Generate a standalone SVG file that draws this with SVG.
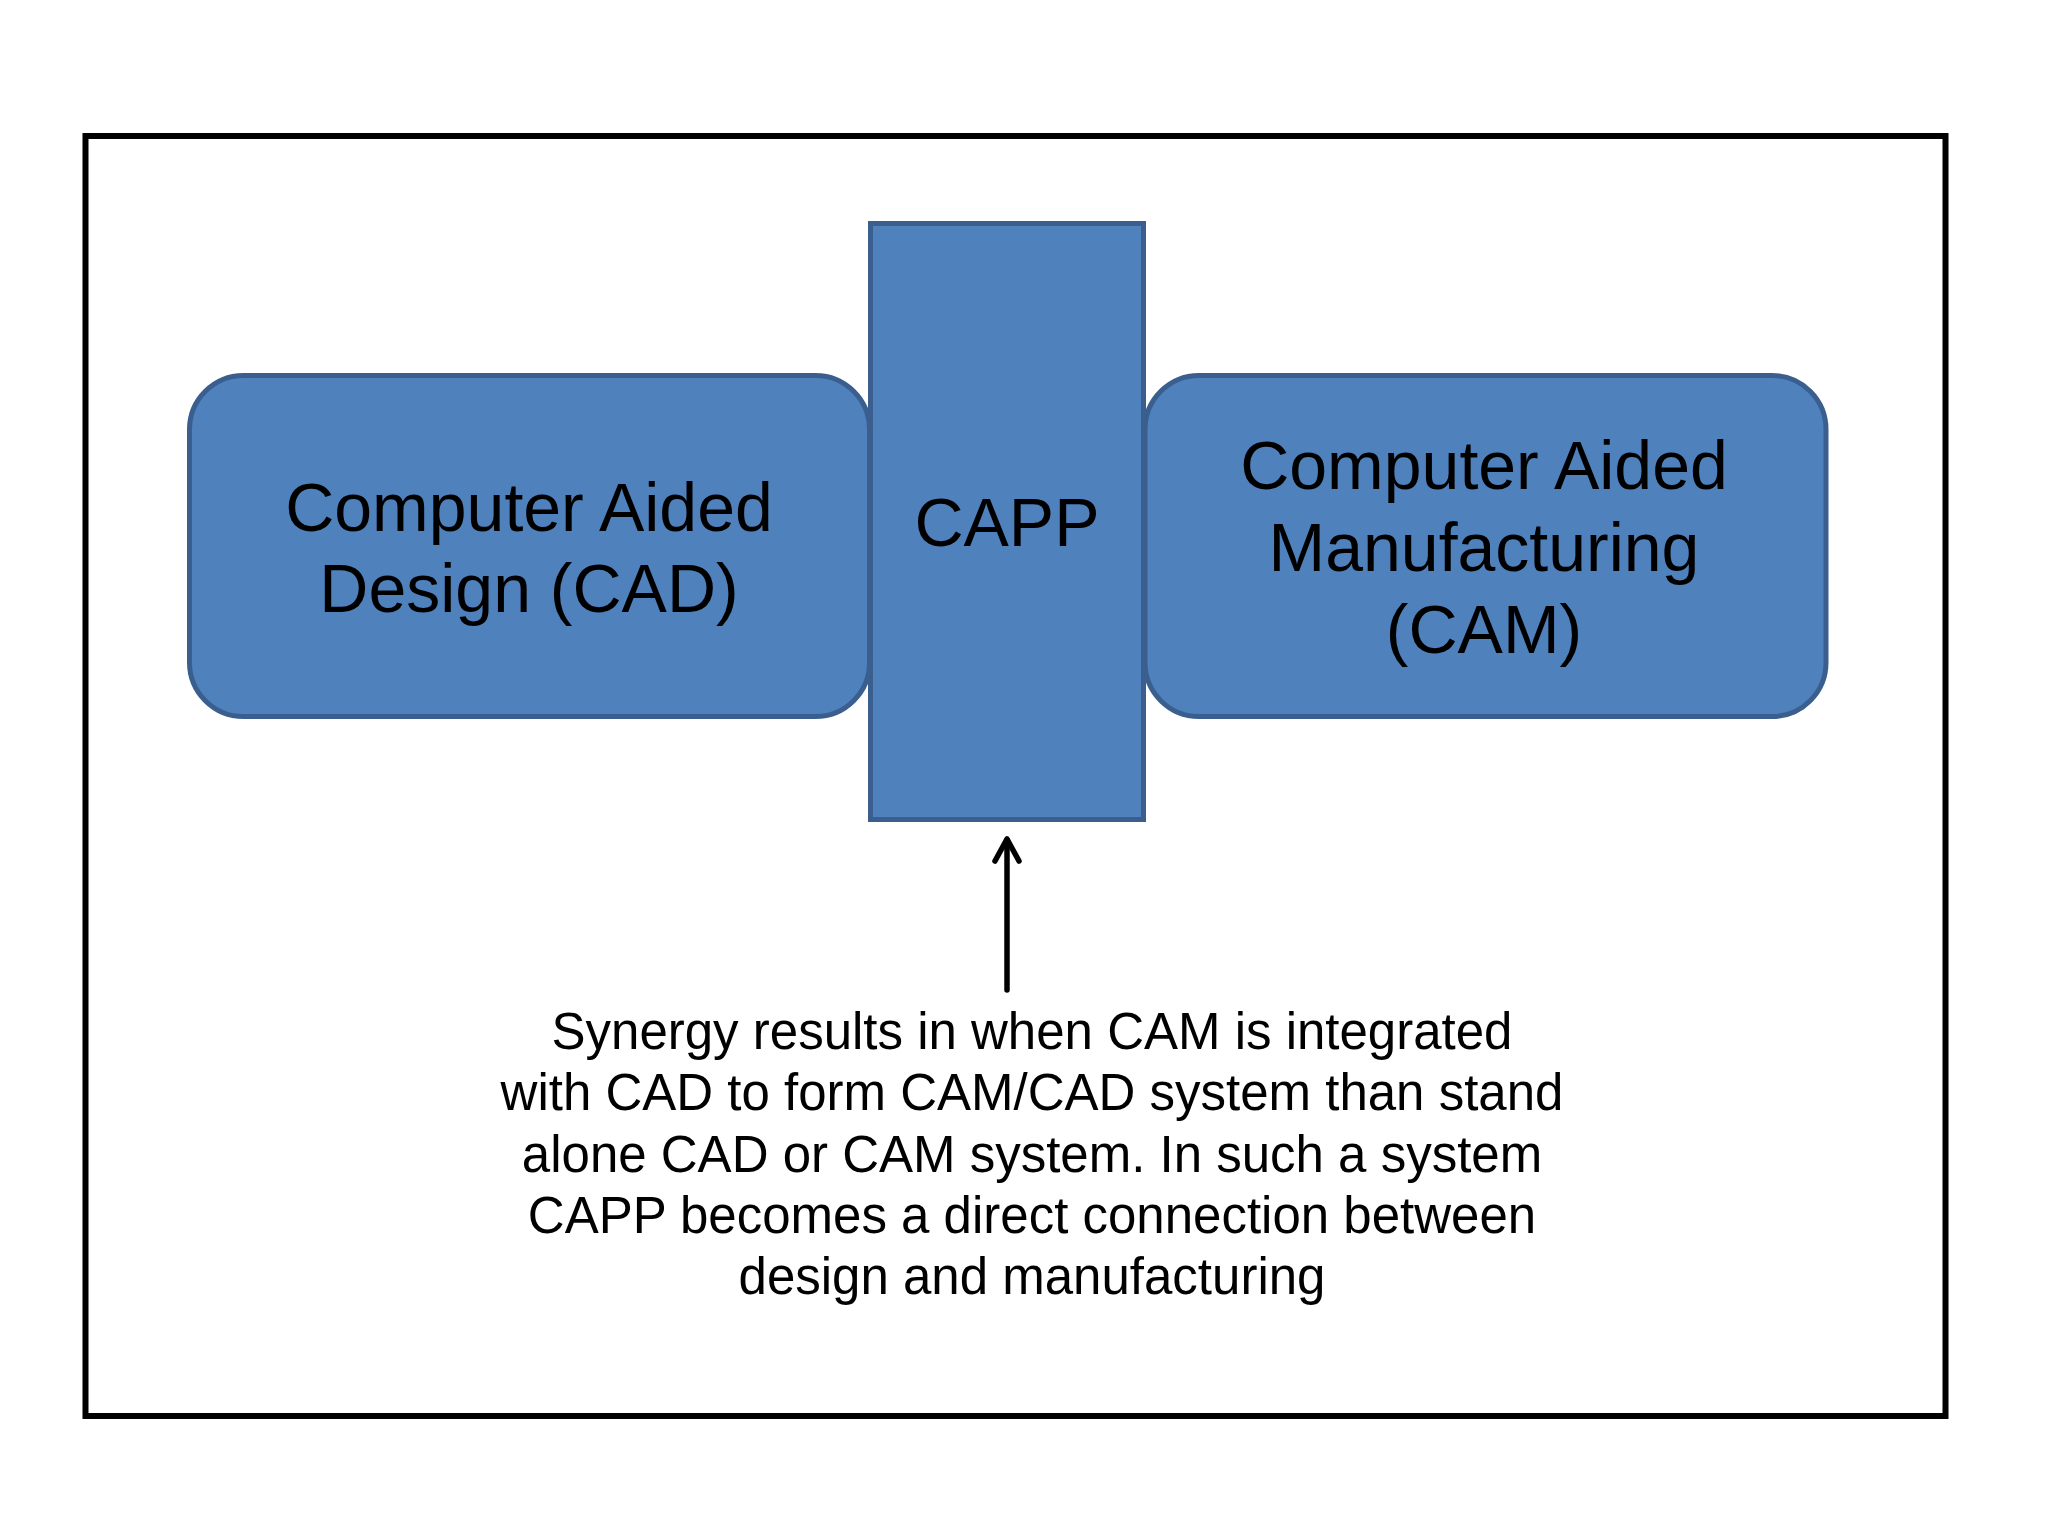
<svg xmlns="http://www.w3.org/2000/svg" width="2048" height="1536" viewBox="0 0 2048 1536">
<style>
.box{fill:#4F81BD;stroke:#3A5F8E;stroke-width:5}
.lbl{font-family:"Liberation Sans",Arial,sans-serif;font-size:68px;fill:#000;text-anchor:middle}
.note{font-family:"Liberation Sans",Arial,sans-serif;font-size:51px;fill:#000;text-anchor:middle}
.conn{stroke:#000;stroke-width:5.5;fill:none;stroke-linecap:round;stroke-linejoin:round}
</style>
<rect x="0" y="0" width="2048" height="1536" fill="#FFFFFF"/>
<rect id="frame" x="85.5" y="136" width="1860" height="1280" fill="none" stroke="#000" stroke-width="6"/>
<g id="cad">
<rect class="box" x="189.5" y="375.5" width="680" height="341" rx="54" ry="54"/>
<text class="lbl" x="529" y="531">Computer Aided</text>
<text class="lbl" x="529" y="612">Design (CAD)</text>
</g>
<g id="cam">
<rect class="box" x="1145" y="375.5" width="681" height="341" rx="54" ry="54"/>
<text class="lbl" x="1484" y="489">Computer Aided</text>
<text class="lbl" x="1484" y="571">Manufacturing</text>
<text class="lbl" x="1484" y="653">(CAM)</text>
</g>
<g id="capp">
<rect class="box" x="870.5" y="223.5" width="273" height="596"/>
<text class="lbl" x="1007" y="546">CAPP</text>
</g>
<g id="connectors">
<line class="conn" x1="1007" y1="990" x2="1007" y2="840"/>
<polyline class="conn" points="995,861 1007,839 1019,861"/>
</g>
<g id="note">
<text class="note" x="1032" y="1049">Synergy results in when CAM is integrated</text>
<text class="note" x="1032" y="1110">with CAD to form CAM/CAD system than stand</text>
<text class="note" x="1032" y="1172">alone CAD or CAM system. In such a system</text>
<text class="note" x="1032" y="1233">CAPP becomes a direct connection between</text>
<text class="note" x="1032" y="1294">design and manufacturing</text>
</g>
</svg>
